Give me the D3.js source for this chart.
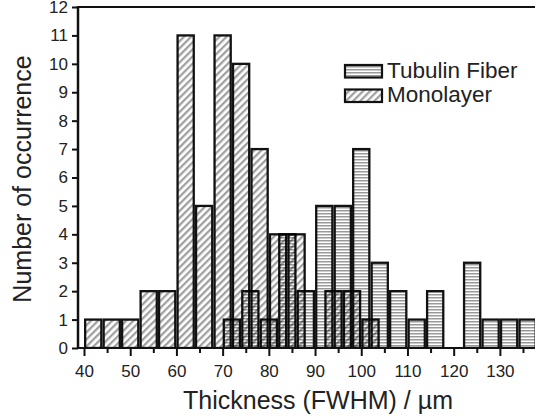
<!DOCTYPE html>
<html><head><meta charset="utf-8">
<script src="https://cdn.jsdelivr.net/npm/d3@7"></script>
<style>
body{margin:0;background:#fff;}
svg{display:block;font-family:"Liberation Sans",Arial,sans-serif;}
</style></head>
<body>
<svg id="chart" width="535" height="417"></svg>
<script>
// Data
const monoCenters = [42,46,50,54,58,62,66,70,74,78,82,86,90,94,98,102];
const monoCounts  = [1,1,1,2,2,11,5,11,10,7,4,4,0,2,2,1];
const fiberCenters = [72,76,80,84,88,92,96,100,104,108,112,116,120,124,128,132,136];
const fiberCounts  = [1,2,1,4,2,5,5,7,3,2,1,2,0,3,1,1,1];
const xMajorTicks = [40,50,60,70,80,90,100,110,120,130];
const xMinorTicks = [45,55,65,75,85,95,105,115,125,135];
const yTicks = [0,1,2,3,4,5,6,7,8,9,10,11,12];
const seriesNames = ["Tubulin Fiber","Monolayer"];
const binHalf = 1.75;

(function(){
const svg = d3.select("#chart");
const mL = 78, mR = 535, mT = 7, mB = 348;
const x = d3.scaleLinear().domain([38.7,137.6]).range([mL,mR]);
const y = d3.scaleLinear().domain([0,12]).range([mB,mT]);

const defs = svg.append("defs");
const ph = defs.append("pattern").attr("id","horiz").attr("patternUnits","userSpaceOnUse")
  .attr("width",6).attr("height",3);
ph.append("rect").attr("x",0).attr("y",0).attr("width",6).attr("height",1.5).attr("fill","#999");
const pd = defs.append("pattern").attr("id","diag").attr("patternUnits","userSpaceOnUse")
  .attr("width",5).attr("height",5).attr("patternTransform","rotate(45)");
pd.append("rect").attr("x",0).attr("y",0).attr("width",2.3).attr("height",5).attr("fill","#a0a0a0");

const clip = defs.append("clipPath").attr("id","plotclip");
clip.append("rect").attr("x",mL).attr("y",0).attr("width",mR-mL).attr("height",mB+1);

const plot = svg.append("g").attr("clip-path","url(#plotclip)");

// Tubulin fiber bars
plot.append("g").selectAll("rect").data(fiberCenters.map((c,i)=>({c,v:fiberCounts[i]})).filter(d=>d.v>0))
  .join("rect")
  .attr("x",d=>x(d.c-binHalf)).attr("width",d=>x(d.c+binHalf)-x(d.c-binHalf))
  .attr("y",d=>y(d.v)).attr("height",d=>y(0)-y(d.v))
  .attr("fill","url(#horiz)").attr("stroke","#111").attr("stroke-width",2.3);

// Monolayer bars
plot.append("g").style("mix-blend-mode","multiply")
  .selectAll("rect").data(monoCenters.map((c,i)=>({c,v:monoCounts[i]})).filter(d=>d.v>0))
  .join("rect")
  .attr("x",d=>x(d.c-binHalf)).attr("width",d=>x(d.c+binHalf)-x(d.c-binHalf))
  .attr("y",d=>y(d.v)).attr("height",d=>y(0)-y(d.v))
  .attr("fill","url(#diag)").attr("stroke","#111").attr("stroke-width",2.3);

// Axes
const xAxis = d3.axisBottom(x).tickValues(xMajorTicks).tickSize(8).tickPadding(9).tickFormat(d3.format("d"));
const gx = svg.append("g").attr("transform",`translate(0,${mB})`).call(xAxis);
gx.select(".domain").remove();
gx.selectAll(".tick line").attr("stroke","#111").attr("stroke-width",2);
gx.selectAll(".tick text").attr("font-size",17).attr("fill","#222").attr("font-family","Liberation Sans, Arial, sans-serif");
const xMinor = d3.axisBottom(x).tickValues(xMinorTicks).tickSize(5).tickFormat("");
const gxm = svg.append("g").attr("transform",`translate(0,${mB})`).call(xMinor);
gxm.select(".domain").remove();
gxm.selectAll(".tick line").attr("stroke","#111").attr("stroke-width",2);

const yAxis = d3.axisLeft(y).tickValues(yTicks).tickSize(6).tickPadding(4);
const gy = svg.append("g").attr("transform",`translate(${mL},0)`).call(yAxis);
gy.select(".domain").remove();
gy.selectAll(".tick line").attr("stroke","#111").attr("stroke-width",2);
gy.selectAll(".tick text").attr("font-size",17).attr("fill","#222").attr("font-family","Liberation Sans, Arial, sans-serif");

// frame lines
svg.append("line").attr("x1",mL).attr("x2",mR).attr("y1",mB).attr("y2",mB).attr("stroke","#111").attr("stroke-width",2.2);
svg.append("line").attr("x1",mL).attr("x2",mR).attr("y1",mT).attr("y2",mT).attr("stroke","#111").attr("stroke-width",2.2);
svg.append("line").attr("x1",mL).attr("x2",mL).attr("y1",mT-1).attr("y2",mB+1).attr("stroke","#111").attr("stroke-width",2.5);

// Axis titles
svg.append("text").attr("x",318).attr("y",409).attr("text-anchor","middle")
  .attr("font-size",25).attr("fill","#222").text("Thickness (FWHM) / µm");
svg.append("text").attr("transform","translate(31,179) rotate(-90)").attr("text-anchor","middle")
  .attr("font-size",25).attr("fill","#222").text("Number of occurrence");

// Legend
const legend = svg.append("g");
const fills = ["url(#horiz)","url(#diag)"];
seriesNames.forEach((n,i)=>{
  const ly = 65 + i*24.5;
  legend.append("rect").attr("x",345).attr("y",ly).attr("width",37).attr("height",12.5)
    .attr("fill",fills[i]).attr("stroke","#111").attr("stroke-width",2.2);
  legend.append("text").attr("x",387).attr("y",ly+12.5).attr("font-size",22.5).attr("fill","#222").text(n);
});
})();
</script>
</body></html>
